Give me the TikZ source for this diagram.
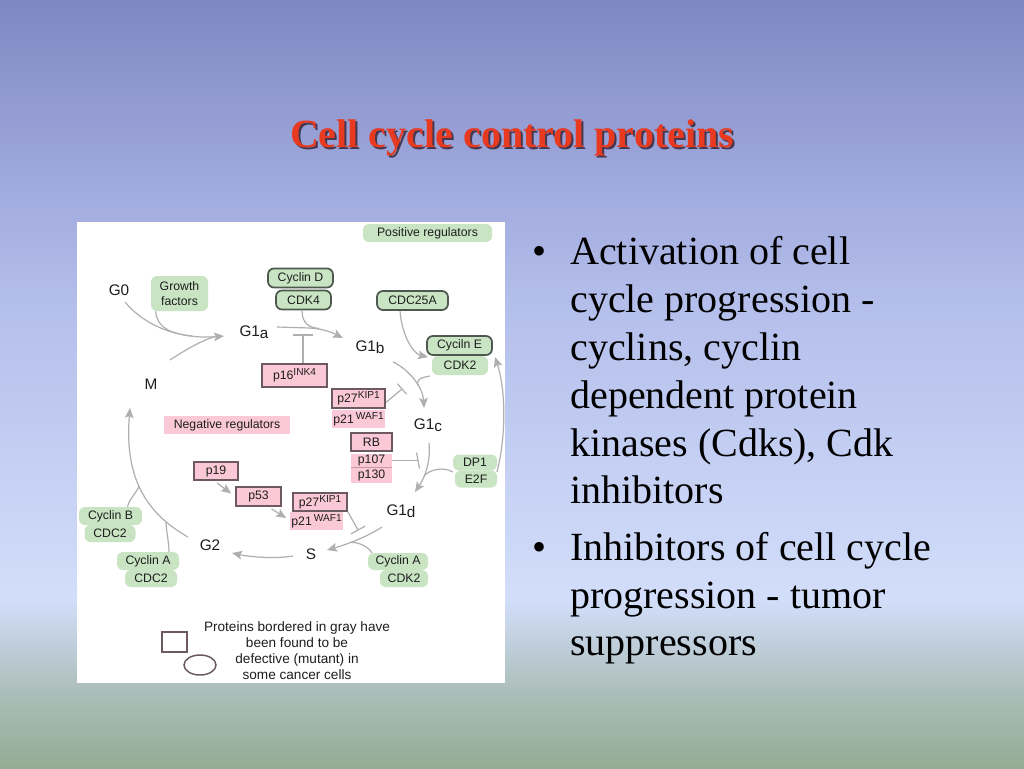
\documentclass[tikz,border=0pt]{standalone}
\usepackage{fontspec}
\setmainfont{Liberation Serif}
\newfontfamily\dfont{Liberation Sans}
\usetikzlibrary{arrows.meta,calc,shapes.geometric}
\definecolor{bgA}{RGB}{128,136,196}
\definecolor{bgB}{RGB}{180,190,235}
\definecolor{bgC}{RGB}{210,222,250}
\definecolor{bgD}{RGB}{172,190,186}
\definecolor{bgE}{RGB}{148,172,148}
\definecolor{tred}{RGB}{232,58,32}
\definecolor{tshadow}{RGB}{70,55,80}
\definecolor{gfill}{RGB}{200,228,195}
\definecolor{gline}{RGB}{78,88,78}
\definecolor{pfill}{RGB}{250,200,214}
\definecolor{pline}{RGB}{108,90,96}
\definecolor{lgray}{RGB}{175,175,175}
\definecolor{txt}{RGB}{30,30,30}
\definecolor{sepc}{RGB}{200,150,165}
\newcommand{\supr}[1]{\raisebox{0.55ex}{\fontsize{7.6}{8}\selectfont #1}}
\tikzset{
  boxfont/.style={font=\dfont\fontsize{9.2}{11}\selectfont, text=txt},
  gbox/.style={boxfont, fill=gfill, rounded corners=4.5pt, inner sep=0pt},
  gboxb/.style={gbox, draw=gline, line width=1.3pt},
  pbox/.style={boxfont, fill=pfill, inner sep=0pt},
  pboxb/.style={pbox, draw=pline, line width=1.3pt},
  stage/.style={font=\dfont\fontsize{11.5}{13}\selectfont, text=txt, inner sep=0pt},
  conn/.style={draw=lgray, line width=0.9pt},
  arr/.style={conn, -{Stealth[length=7.5pt,width=6.5pt,inset=1.5pt]}},
  btext/.style={anchor=base west, inner sep=0pt, font=\fontsize{30}{36}\selectfont, text=black},
  bdot/.style={anchor=base, inner sep=0pt, font=\fontsize{30}{36}\selectfont, text=black},
  titlefont/.style={anchor=base, inner sep=0pt, font=\bfseries\fontsize{30}{36}\selectfont}
}
\begin{document}
\begin{tikzpicture}[x=0.75pt,y=-0.75pt]
\useasboundingbox (0,0) rectangle (1024,768);
% background
\shade[top color=bgA,bottom color=bgB] (0,0) rectangle (1024,301);
\shade[top color=bgB,bottom color=bgC] (0,300) rectangle (1024,601);
\shade[top color=bgC,bottom color=bgD] (0,600) rectangle (1024,691);
\shade[top color=bgD,bottom color=bgE] (0,690) rectangle (1024,768);
% title with shadow
\node[titlefont, text=tshadow] (tsh) at (514,149) {Cell cycle control proteins};
\node[titlefont, text=tred] (title) at (512,147) {Cell cycle control proteins};
% panel
\fill[white] (77,222) rectangle (505,683);
% green, no border
\node[gbox, minimum width=42.75pt, minimum height=26.25pt, align=center] (gf) at (179.5,293.5) {Growth\\factors};
\node[gbox, minimum width=96.75pt, minimum height=13.5pt] (posreg) at (427.5,233) {Positive regulators};
\node[gbox, minimum width=42pt, minimum height=14.25pt] (cdk2a) at (460,365.5) {CDK2};
\node[gbox, minimum width=33pt, minimum height=12pt] (dp1) at (475,462.5) {DP1};
\node[gbox, minimum width=31.5pt, minimum height=12.75pt] (e2f) at (476,479) {E2F};
\node[gbox, minimum width=47.25pt, minimum height=13.5pt] (cycB) at (110.5,516) {Cyclin B};
\node[gbox, minimum width=38.25pt, minimum height=12.75pt] (cdc2b) at (110,533.5) {CDC2};
\node[gbox, minimum width=46.5pt, minimum height=13.5pt] (cycA1) at (148,561) {Cyclin A};
\node[gbox, minimum width=39pt, minimum height=12.75pt] (cdc2a) at (151,578.5) {CDC2};
\node[gbox, minimum width=45pt, minimum height=12.75pt] (cycA2) at (398,561.5) {Cyclin A};
\node[gbox, minimum width=36pt, minimum height=12.75pt] (cdk2b) at (404,578.5) {CDK2};
% green, bordered
\node[gboxb, minimum width=48.75pt, minimum height=14.25pt] (cycD) at (300.5,278) {Cyclin D};
\node[gboxb, minimum width=41.25pt, minimum height=14.25pt] (cdk4) at (303.5,300) {CDK4};
\node[gboxb, minimum width=53.25pt, minimum height=14.25pt] (cdc25a) at (412.5,300.5) {CDC25A};
\node[gboxb, minimum width=48.75pt, minimum height=14.25pt] (cycE) at (459.5,345.5) {Cyciln E};
% pink
\node[pbox, minimum width=94.5pt, minimum height=13.5pt] (negreg) at (227,425) {Negative regulators};
\node[pbox, minimum width=39.75pt, minimum height=13.5pt] (p21a) at (358.5,419) {p21\,\supr{WAF1}};
\node[pbox, minimum width=30.75pt, minimum height=10.5pt] (p107) at (371.5,460.5) {p107};
\node[pbox, minimum width=30.75pt, minimum height=11.25pt] (p130) at (371.5,475) {p130};
\draw[sepc, line width=0.6pt] (p107.south west) -- (p107.south east);
\node[pbox, minimum width=39.75pt, minimum height=13.5pt] (p21b) at (316.5,521) {p21\,\supr{WAF1}};
\node[pboxb, minimum width=48.75pt, minimum height=17.25pt] (p16) at (294.5,375.5) {p16\supr{INK4}};
\node[pboxb, minimum width=39.75pt, minimum height=14.25pt] (p27a) at (358.5,398.5) {p27\supr{KIP1}};
\node[pboxb, minimum width=30.75pt, minimum height=13.5pt] (rb) at (371.5,442) {RB};
\node[pboxb, minimum width=33pt, minimum height=13.5pt] (p19) at (216,471) {p19};
\node[pboxb, minimum width=33.75pt, minimum height=14.25pt] (p53) at (258.5,496.5) {p53};
\node[pboxb, minimum width=40.5pt, minimum height=13.5pt] (p27b) at (320,502) {p27\supr{KIP1}};
% stage labels
\node[stage] (g0) at (119,290) {G0};
\node[stage] (g1a) at (254,332) {G1\raisebox{-0.3ex}{a}};
\node[stage] (g1b) at (370,347) {G1\raisebox{-0.3ex}{b}};
\node[stage] (g1c) at (428,425) {G1\raisebox{-0.3ex}{c}};
\node[stage] (g1d) at (401,511) {G1\raisebox{-0.3ex}{d}};
\node[stage] (m) at (151,384) {M};
\node[stage] (s) at (311,554) {S};
\node[stage] (g2) at (210,545) {G2};
% join points
\coordinate (j1) at (192,336);
\coordinate (j2) at (214,337);
\coordinate (j3) at (310,328);
\coordinate (j4) at (319,328.5);
\coordinate (j5) at (303,335);
\coordinate (j6) at (417.5,385.5);
\coordinate (j7) at (402,389);
\coordinate (j8) at (418,460.5);
\coordinate (j9) at (424,476);
\coordinate (j10) at (358,530);
\coordinate (j11) at (350,542.5);
\coordinate (j12) at (139,486);
\coordinate (j13) at (166,522);
% connectors
\draw[arr] ($(g0)+(6,12)$) .. controls +(25,30) and +(-34,3) .. ($(g1a)+(-30,4)$);
\draw[conn] ($(gf.south west)+(5,0)$) .. controls +(1,17) and +(-20,-2) .. (j1);
\draw[conn] ($(m)+(19,-24)$) .. controls +(12,-8) and +(-14,4) .. (j2);
\draw[arr] ($(g1a)+(23,-5)$) -- (j3) .. controls +(15,1) and +(-10,-5) .. ($(g1b)+(-27,-9)$);
\draw[conn] ($(cdk4.south)+(-1.5,0)$) .. controls +(0,14) and +(-9,-1) .. (j4);
\draw[conn] (p16.north -| j5) -- (j5);
\draw[conn] ($(j5)+(-10,0)$) -- ($(j5)+(10,0)$);
\draw[arr] ($(cdc25a.south)+(-12.5,0)$) .. controls +(2,26) and +(-14,-3) .. ($(cycE)+(-31.5,11.5)$);
\draw[arr] ($(g1b)+(23,15)$) .. controls +(17,8) and +(-1,-20) .. ($(g1c)+(-4,-17)$);
\draw[conn] ($(cdk2a)+(-30,10.5)$) .. controls +(-9,2) and +(0,-8) .. (j6);
\draw[conn] ($(p27a.east)+(0,4)$) -- (j7);
\draw[conn] ($(j7)+(-4.6,-5.3)$) -- ($(j7)+(4.6,5.3)$);
\draw[arr] ($(e2f)+(21,-7)$) .. controls +(10,-40) and +(10,30) .. ($(cycE)+(35.5,11.5)$);
\draw[arr] ($(g1c)+(1,18)$) .. controls +(2,22) and +(8,-12) .. ($(g1d)+(14,-19)$);
\draw[conn] (p107.east) -- (j8);
\draw[conn] ($(j8)+(-1.5,-8)$) -- ($(j8)+(1.5,8)$);
\draw[conn] ($(e2f.west)+(-2,-7)$) .. controls +(-10,-6) and +(5,-6) .. (j9);
\draw[arr] ($(g1d)+(-19,16)$) .. controls +(-15,10) and +(18,-5) .. ($(s)+(16,-4)$);
\draw[conn] (p27b.south east) -- (j10);
\draw[conn] ($(j10)+(-7,3.8)$) -- ($(j10)+(7,-3.8)$);
\draw[conn] ($(cycA2)+(-26,-8.5)$) .. controls +(-3,-6) and +(8,-1) .. (j11);
\draw[arr] ($(s)+(-18,2)$) .. controls +(-18,3) and +(18,4) .. ($(g2)+(22,8)$);
\draw[arr] ($(g2)+(-22,-8)$) .. controls +(-48,-27) and +(-5,62) .. ($(m)+(-21,24)$);
\draw[conn] ($(cycB.north)+(17,0)$) .. controls +(2,-8) and +(-2,6) .. (j12);
\draw[conn] ($(cycA1.north)+(21,0)$) .. controls +(0,-10) and +(0,8) .. (j13);
\draw[arr] ($(p19.south)+(1,2)$) -- ($(p53.west)+(-4,-3)$);
\draw[arr] ($(p53.south)+(13,2)$) -- ($(p27b.west)+(-6,16)$);
% legend
\node[draw=pline, line width=1.1pt, fill=white, minimum width=18.75pt, minimum height=15pt, inner sep=0pt] (legsq) at (174.5,642) {};
\node[ellipse, draw=pline, line width=1.1pt, fill=white, minimum width=24pt, minimum height=15pt, inner sep=0pt] (legov) at (200,665) {};
\node[font=\dfont\fontsize{10.2}{12}\selectfont, text=txt, align=center, inner sep=0pt] (legtxt) at (297,651) {Proteins bordered in gray have\\been found to be\\defective (mutant) in\\some cancer cells};
% bullets
\node[bdot] (bu1) at (539,264.3) {•};
\node[btext] (l1) at (570,264.3) {Activation of cell};
\node[btext] (l2) at (570,312.3) {cycle progression -};
\node[btext] (l3) at (570,360.3) {cyclins, cyclin};
\node[btext] (l4) at (570,408.3) {dependent protein};
\node[btext] (l5) at (570,456.3) {kinases (Cdks), Cdk};
\node[btext] (l6) at (570,503.5) {inhibitors};
\node[bdot] (bu2) at (539,560) {•};
\node[btext] (l7) at (570,560) {Inhibitors of cell cycle};
\node[btext] (l8) at (570,608) {progression - tumor};
\node[btext] (l9) at (570,655.5) {suppressors};
\end{tikzpicture}
\end{document}
